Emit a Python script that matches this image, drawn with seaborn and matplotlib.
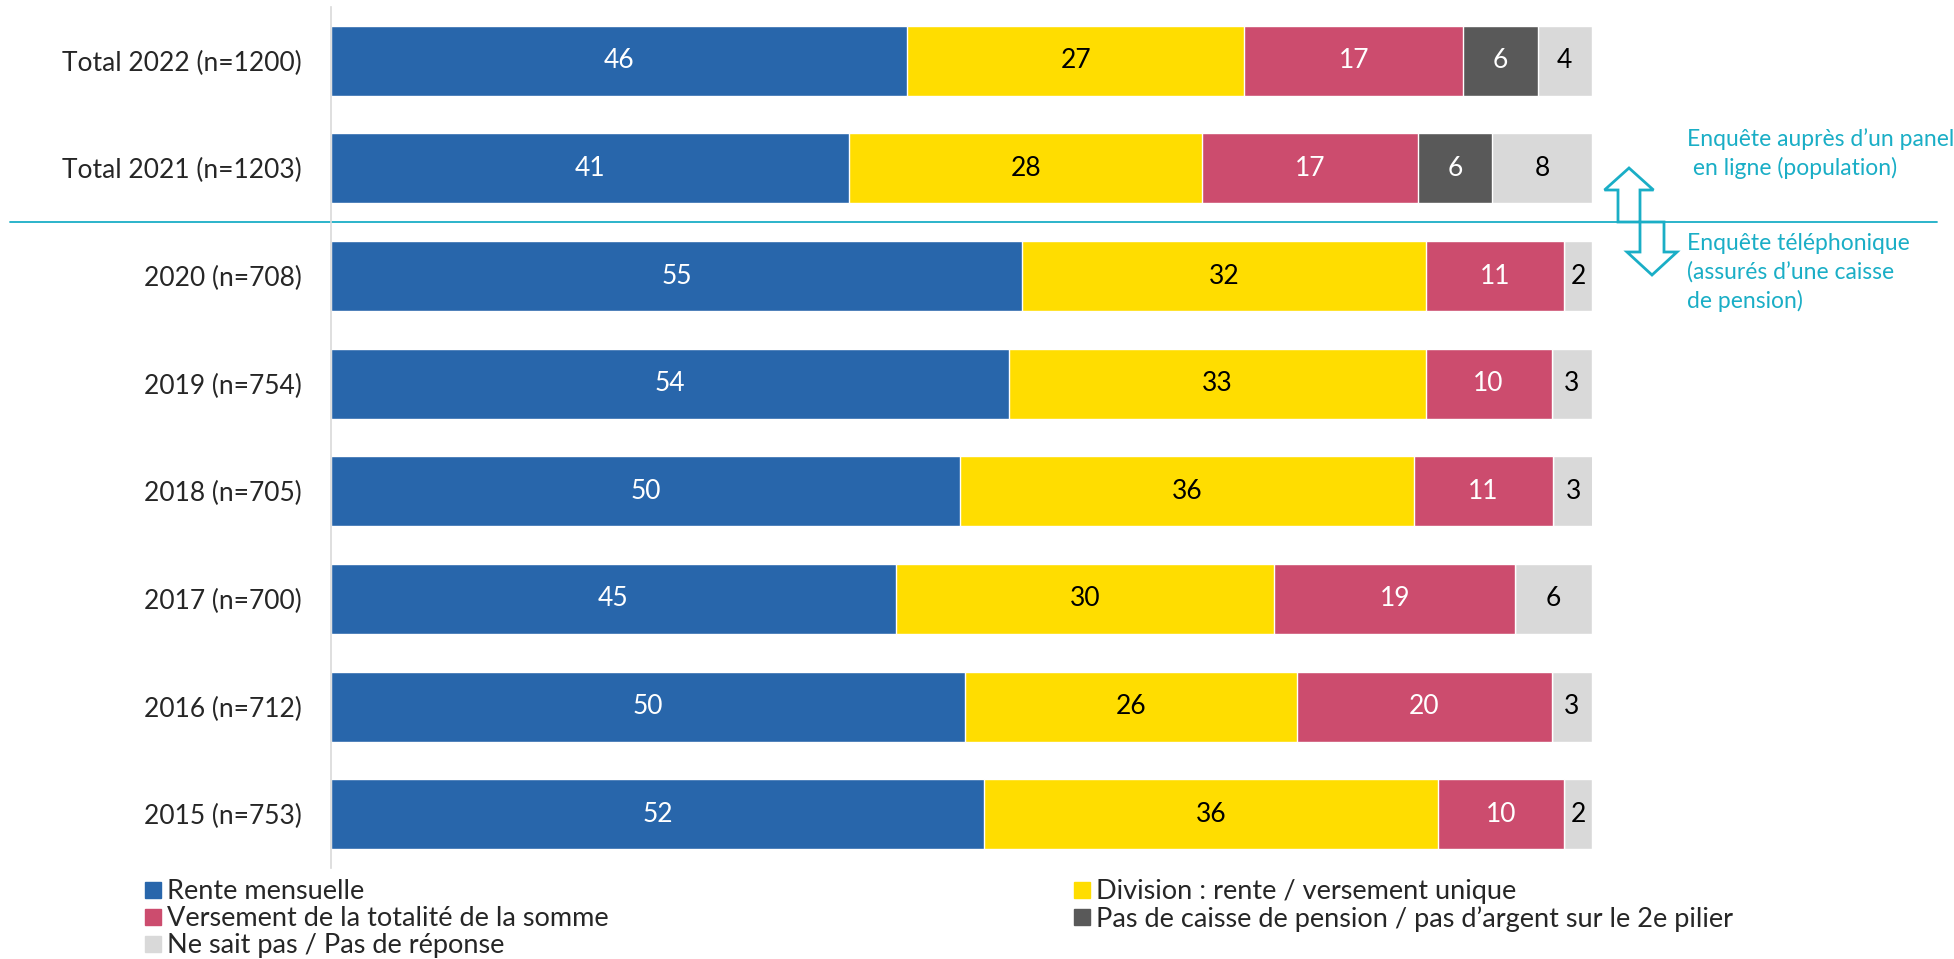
import matplotlib
matplotlib.use("Agg")
import matplotlib.pyplot as plt
import matplotlib.transforms as mtransforms
from matplotlib.patches import FancyArrow
from matplotlib.lines import Line2D
import seaborn as sns
import numpy as np

# Données
categories = ["Total 2022 (n=1200)", "Total 2021 (n=1203)", "2020 (n=708)", "2019 (n=754)",
              "2018 (n=705)", "2017 (n=700)", "2016 (n=712)", "2015 (n=753)"]
rente = [45.7, 41.1, 54.8, 53.8, 49.9, 44.8, 50.3, 51.8]
division = [26.7, 28.0, 32.0, 33.0, 36.0, 30.0, 26.3, 36.0]
versement = [17.4, 17.1, 11.0, 10.0, 11.0, 19.1, 20.2, 10.0]
pas_caisse = [5.9, 5.9, 0, 0, 0, 0, 0, 0]
ne_sait_pas = [4.3, 7.9, 2.2, 3.2, 3.2, 6.1, 3.2, 2.2]

series_names = ["Rente mensuelle", "Division : rente / versement unique",
                "Versement de la totalité de la somme",
                "Pas de caisse de pension / pas d\u2019argent sur le 2e pilier",
                "Ne sait pas / Pas de réponse"]
series = [rente, division, versement, pas_caisse, ne_sait_pas]
colors = ["#2866AB", "#FFDD00", "#CC4C6E", "#595959", "#D9D9D9"]
label_colors = ["white", "black", "white", "white", "black"]

TEAL = "#1AAEC6"
FONT = ["Lato", "DejaVu Sans"]

sns.set_style("white")
plt.rcParams["font.family"] = FONT

fig = plt.figure(figsize=(19.54, 9.59), dpi=100)
ax = fig.add_axes([331 / 1954, 1 - 868 / 959, 1261 / 1954, 861 / 959])

vals = np.array(series)
cum = np.cumsum(vals, axis=0)

# barres empilées : on dessine les cumuls du plus grand au plus petit
for i in range(len(series) - 1, -1, -1):
    sns.barplot(x=cum[i], y=categories, color=colors[i], orient="h", width=0.65,
                saturation=1, ax=ax, order=categories)

for i in range(len(series)):
    for j in range(len(categories)):
        v = vals[i, j]
        if v <= 0:
            continue
        ax.text(cum[i, j] - v / 2, j, f"{round(v)}", ha="center", va="center",
                color=label_colors[i], fontsize=19)

ax.set_xlim(0, 100)
ax.set_ylim(7.5, -0.5)
ax.set_xlabel("")
ax.set_ylabel("")
ax.set_xticks([])
ax.tick_params(axis="y", length=0, pad=21, labelsize=19)
for s in ["top", "right", "bottom"]:
    ax.spines[s].set_visible(False)
ax.spines["left"].set_color("#D9D9D9")
ax.spines["left"].set_linewidth(1.2)

# ligne de séparation entre les deux méthodes d'enquête
trans = mtransforms.blended_transform_factory(fig.transFigure, ax.transData)
ax.add_line(Line2D([10 / 1954, 1937 / 1954], [1.5, 1.5], transform=trans,
                   color=TEAL, lw=1.3, clip_on=False))


def fx(px):
    return px / 1954


def fy(py):
    return 1 - py / 959


# flèches creuses
up = FancyArrow(fx(1629), fy(222), 0, fy(168) - fy(222), width=22 / 1954,
                head_width=49 / 1954, head_length=22 / 959, length_includes_head=True,
                transform=fig.transFigure, facecolor="white", edgecolor=TEAL, lw=2)
down = FancyArrow(fx(1652), fy(222), 0, fy(275) - fy(222), width=24 / 1954,
                  head_width=50 / 1954, head_length=23 / 959, length_includes_head=True,
                  transform=fig.transFigure, facecolor="white", edgecolor=TEAL, lw=2)
fig.patches.extend([up, down])

for txt, py in [("Enquête auprès d\u2019un panel", 139), (" en ligne (population)", 168),
                ("Enquête téléphonique", 243), ("(assurés d\u2019une caisse", 272),
                ("de pension)", 301)]:
    fig.text(fx(1687), fy(py), txt, color=TEAL, fontsize=16.5, va="center", ha="left")

# légende sur deux colonnes
handles = [Line2D([], [], marker="s", linestyle="", color=c, markersize=11) for c in colors]
leg_kw = dict(loc="upper left", frameon=False, fontsize=19.5, handlelength=0.6,
              handletextpad=0.2, labelspacing=0.08, borderaxespad=0, borderpad=0)
fig.legend([handles[0], handles[2], handles[4]],
           [series_names[0], series_names[2], series_names[4]],
           bbox_to_anchor=(fx(145), fy(879)), **leg_kw)
fig.legend([handles[1], handles[3]], [series_names[1], series_names[3]],
           bbox_to_anchor=(fx(1074), fy(879)), **leg_kw)

fig.savefig("out.png", dpi=100)
